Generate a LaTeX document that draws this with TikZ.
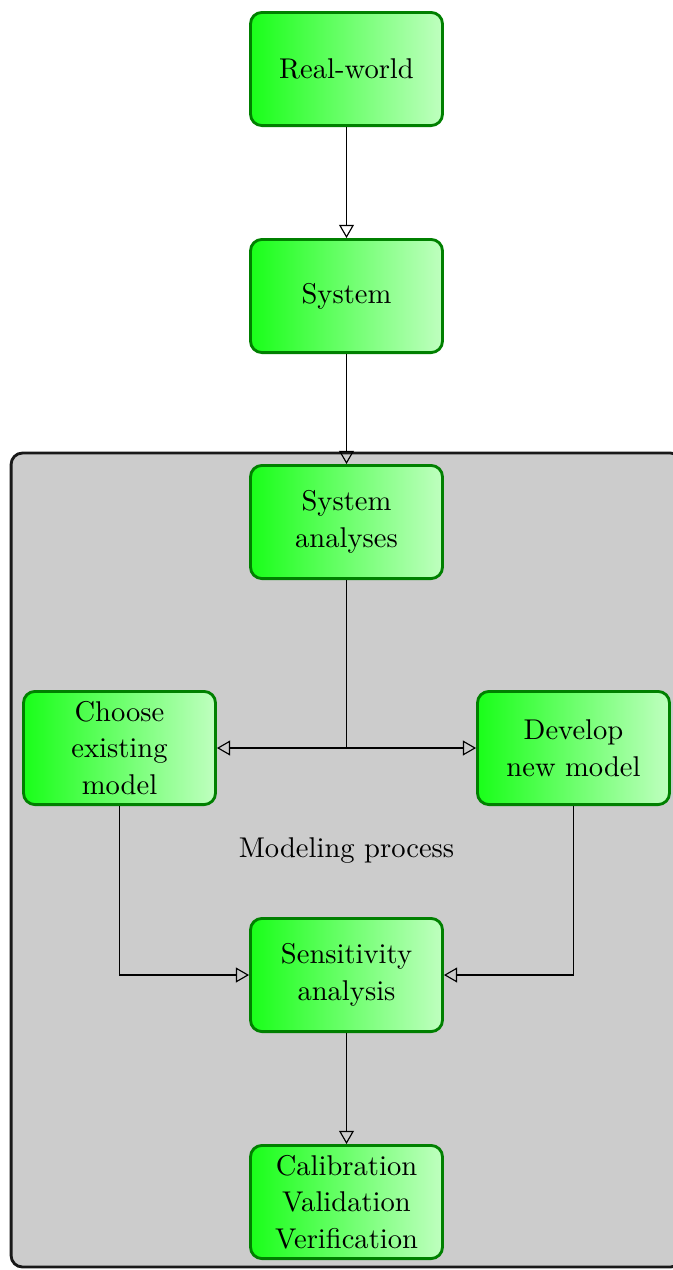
\documentclass[tikz,border=0pt]{standalone}
\usetikzlibrary{arrows.meta}
\begin{document}
\begin{tikzpicture}[
  x=0.35pt, y=-0.35pt,
  stage/.style={draw=green!50!black, line width=1pt, rounded corners=4pt,
    left color=green!90, right color=green!25,
    minimum width=67.2pt, minimum height=39.6pt, inner sep=1pt,
    align=center, font=\fontsize{10}{12.8}\selectfont},
  procbox/.style={draw=black!90, line width=1pt, rounded corners=4pt,
    fill=black!20, minimum width=234.8pt, minimum height=284.9pt, inner sep=0pt},
  conn/.style={line width=0.4pt, -{Triangle[open, length=4.6pt, width=5.2pt]}},
  plain/.style={line width=0.4pt}
]
\useasboundingbox (0,0) rectangle (673,1270);

% grey frame around the modelling steps
\node[procbox] (proc) at (346.5,860) {};
\node[font=\fontsize{10}{12.8}\selectfont] (proclabel) at (346.5,851) {Modeling process};

% stages
\node[stage] (rw)  at (346.5,69)  {Real-world};
\node[stage] (sys) at (346.5,296) {System};
\node[stage] (sa)  at (346.5,522) {System\\analyses};
\node[stage] (ce)  at (119.5,748) {Choose\\existing\\model};
\node[stage] (dn)  at (573.5,748) {Develop\\new model};
\node[stage] (sens) at (346.5,975) {Sensitivity\\analysis};
\node[stage] (cvv) at (346.5,1202) {Calibration\\Validation\\Verification};

% connectors
\draw[conn] (rw.south) -- (sys.north);
\draw[conn] (sys.south) -- (sa.north);
\coordinate (split) at (sa.south |- ce.east);
\draw[plain] (sa.south) -- (split);
\draw[conn] (split) -- (ce.east);
\draw[conn] (split) -- (dn.west);
\draw[conn] (ce.south) |- (sens.west);
\draw[conn] (dn.south) |- (sens.east);
\draw[conn] (sens.south) -- (cvv.north);
\end{tikzpicture}
\end{document}
